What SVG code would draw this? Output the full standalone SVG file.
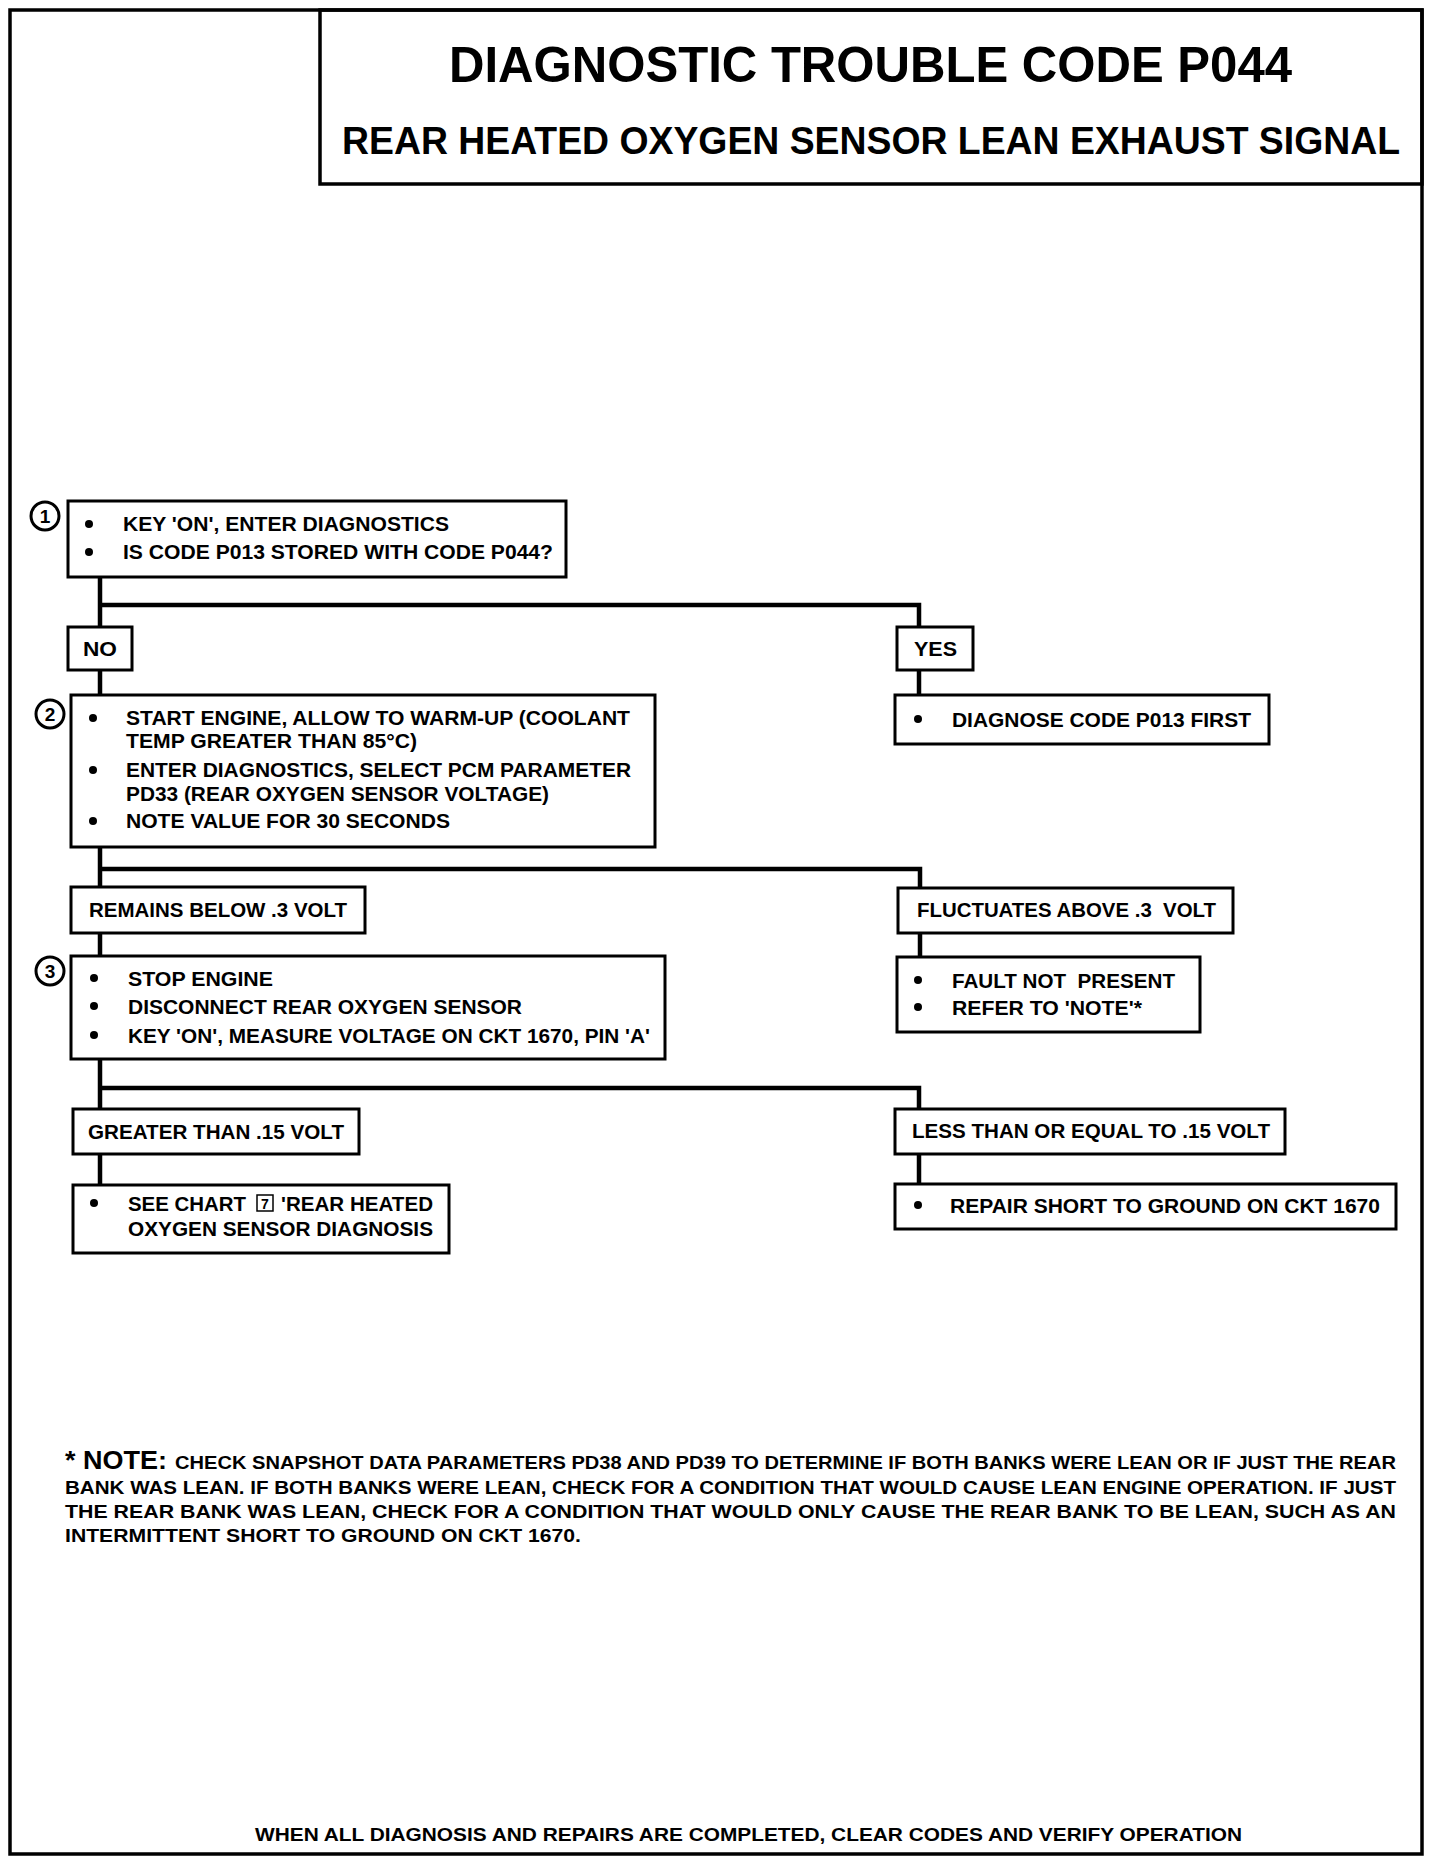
<svg xmlns="http://www.w3.org/2000/svg" width="1440" height="1866" viewBox="0 0 1440 1866">
<style>
.box{fill:#fff;stroke:#000;stroke-width:3}
.conn{fill:none;stroke:#000;stroke-width:4.5}
.t{font-family:"Liberation Sans",Arial,Helvetica,sans-serif;font-weight:bold;font-size:21px;fill:#000;white-space:pre}
.h1{font-family:"Liberation Sans",Arial,Helvetica,sans-serif;font-weight:bold;font-size:50px;fill:#000}
.h2{font-family:"Liberation Sans",Arial,Helvetica,sans-serif;font-weight:bold;font-size:38px;fill:#000}
.n{font-family:"Liberation Sans",Arial,Helvetica,sans-serif;font-weight:bold;font-size:19px;fill:#000}
.c{fill:#fff;stroke:#000;stroke-width:3}
.ct{font-family:"Liberation Sans",Arial,Helvetica,sans-serif;font-weight:bold;font-size:19px;fill:#000;text-anchor:middle}
</style>
<defs>
<circle id="dot" r="4" fill="#000"/>
</defs>
<rect x="0" y="0" width="1440" height="1866" fill="#fff"/>
<g id="frame">
<rect x="10" y="10" width="1412" height="1844" fill="none" stroke="#000" stroke-width="3.5"/>
</g>
<g id="header">
<rect x="320" y="10" width="1102" height="174" fill="none" stroke="#000" stroke-width="3.5"/>
<text class="h1" x="449" y="82" textLength="843" lengthAdjust="spacingAndGlyphs">DIAGNOSTIC TROUBLE CODE P044</text>
<text class="h2" x="342" y="154" textLength="1058" lengthAdjust="spacingAndGlyphs">REAR HEATED OXYGEN SENSOR LEAN EXHAUST SIGNAL</text>
</g>
<g id="connectors">
<polyline class="conn" points="100,577 100,627"/>
<polyline class="conn" points="100,605 919,605 919,627"/>
<polyline class="conn" points="100,670 100,695"/>
<polyline class="conn" points="919,670 919,695"/>
<polyline class="conn" points="100,847 100,887"/>
<polyline class="conn" points="100,869 920,869 920,888"/>
<polyline class="conn" points="100,933 100,956"/>
<polyline class="conn" points="920,933 920,957"/>
<polyline class="conn" points="100,1059 100,1109"/>
<polyline class="conn" points="100,1088 919,1088 919,1109"/>
<polyline class="conn" points="100,1154 100,1185"/>
<polyline class="conn" points="919,1154 919,1184"/>
</g>
<g id="step1">
<circle class="c" cx="45" cy="516" r="14"/>
<text class="ct" x="45" y="523">1</text>
<rect class="box" x="68" y="501" width="498" height="76"/>
<use href="#dot" x="89" y="524"/>
<text class="t" x="123" y="531" textLength="326" lengthAdjust="spacingAndGlyphs">KEY 'ON', ENTER DIAGNOSTICS</text>
<use href="#dot" x="89" y="552"/>
<text class="t" x="123" y="559" textLength="430" lengthAdjust="spacingAndGlyphs">IS CODE P013 STORED WITH CODE P044?</text>
</g>
<g id="no">
<rect class="box" x="68" y="627" width="64" height="43"/>
<text class="t" x="83" y="656" textLength="34" lengthAdjust="spacingAndGlyphs">NO</text>
</g>
<g id="yes">
<rect class="box" x="897" y="627" width="76" height="43"/>
<text class="t" x="914" y="656" textLength="43" lengthAdjust="spacingAndGlyphs">YES</text>
</g>
<g id="diagnose">
<rect class="box" x="895" y="695" width="374" height="49"/>
<use href="#dot" x="918" y="719"/>
<text class="t" x="952" y="727" textLength="299" lengthAdjust="spacingAndGlyphs">DIAGNOSE CODE P013 FIRST</text>
</g>
<g id="step2">
<circle class="c" cx="50" cy="714" r="14"/>
<text class="ct" x="50" y="721">2</text>
<rect class="box" x="71" y="695" width="584" height="152"/>
<use href="#dot" x="93" y="718"/>
<text class="t" x="126" y="725" textLength="504" lengthAdjust="spacingAndGlyphs">START ENGINE, ALLOW TO WARM-UP (COOLANT</text>
<text class="t" x="126" y="748" textLength="291" lengthAdjust="spacingAndGlyphs">TEMP GREATER THAN 85°C)</text>
<use href="#dot" x="93" y="770"/>
<text class="t" x="126" y="777" textLength="505" lengthAdjust="spacingAndGlyphs">ENTER DIAGNOSTICS, SELECT PCM PARAMETER</text>
<text class="t" x="126" y="801" textLength="423" lengthAdjust="spacingAndGlyphs">PD33 (REAR OXYGEN SENSOR VOLTAGE)</text>
<use href="#dot" x="93" y="821"/>
<text class="t" x="126" y="828" textLength="324" lengthAdjust="spacingAndGlyphs">NOTE VALUE FOR 30 SECONDS</text>
</g>
<g id="remains">
<rect class="box" x="71" y="887" width="294" height="46"/>
<text class="t" x="89" y="917" textLength="258" lengthAdjust="spacingAndGlyphs">REMAINS BELOW .3 VOLT</text>
</g>
<g id="fluctuates">
<rect class="box" x="898" y="888" width="335" height="45"/>
<text class="t" x="917" y="917" textLength="299" lengthAdjust="spacingAndGlyphs">FLUCTUATES ABOVE .3  VOLT</text>
</g>
<g id="fault">
<rect class="box" x="897" y="957" width="303" height="75"/>
<use href="#dot" x="918" y="980"/>
<text class="t" x="952" y="988" textLength="223" lengthAdjust="spacingAndGlyphs">FAULT NOT  PRESENT</text>
<use href="#dot" x="918" y="1007"/>
<text class="t" x="952" y="1015" textLength="190" lengthAdjust="spacingAndGlyphs">REFER TO 'NOTE'*</text>
</g>
<g id="step3">
<circle class="c" cx="50" cy="971" r="14"/>
<text class="ct" x="50" y="978">3</text>
<rect class="box" x="71" y="956" width="594" height="103"/>
<use href="#dot" x="94" y="978"/>
<text class="t" x="128" y="986" textLength="145" lengthAdjust="spacingAndGlyphs">STOP ENGINE</text>
<use href="#dot" x="94" y="1006"/>
<text class="t" x="128" y="1014" textLength="394" lengthAdjust="spacingAndGlyphs">DISCONNECT REAR OXYGEN SENSOR</text>
<use href="#dot" x="94" y="1035"/>
<text class="t" x="128" y="1043" textLength="522" lengthAdjust="spacingAndGlyphs">KEY 'ON', MEASURE VOLTAGE ON CKT 1670, PIN 'A'</text>
</g>
<g id="greater">
<rect class="box" x="73" y="1109" width="286" height="45"/>
<text class="t" x="88" y="1139" textLength="256" lengthAdjust="spacingAndGlyphs">GREATER THAN .15 VOLT</text>
</g>
<g id="less">
<rect class="box" x="895" y="1109" width="390" height="45"/>
<text class="t" x="912" y="1138" textLength="358" lengthAdjust="spacingAndGlyphs">LESS THAN OR EQUAL TO .15 VOLT</text>
</g>
<g id="seechart">
<rect class="box" x="73" y="1185" width="376" height="68"/>
<use href="#dot" x="94" y="1203"/>
<text class="t" x="128" y="1211" textLength="118" lengthAdjust="spacingAndGlyphs">SEE CHART</text>
<rect x="257" y="1195" width="16" height="16" fill="none" stroke="#000" stroke-width="1.5"/>
<text x="265" y="1209" font-family="Liberation Sans, Arial, sans-serif" font-weight="bold" font-size="14" text-anchor="middle">7</text>
<text class="t" x="281" y="1211" textLength="152" lengthAdjust="spacingAndGlyphs">'REAR HEATED</text>
<text class="t" x="128" y="1236" textLength="305" lengthAdjust="spacingAndGlyphs">OXYGEN SENSOR DIAGNOSIS</text>
</g>
<g id="repair">
<rect class="box" x="895" y="1184" width="501" height="45"/>
<use href="#dot" x="918" y="1205"/>
<text class="t" x="950" y="1213" textLength="430" lengthAdjust="spacingAndGlyphs">REPAIR SHORT TO GROUND ON CKT 1670</text>
</g>
<g id="note">
<text x="65" y="1469" font-family="Liberation Sans, Arial, sans-serif" font-weight="bold" font-size="26" textLength="102" lengthAdjust="spacingAndGlyphs">* NOTE:</text>
<text class="n" x="175" y="1469" textLength="1221" lengthAdjust="spacingAndGlyphs">CHECK SNAPSHOT DATA PARAMETERS PD38 AND PD39 TO DETERMINE IF BOTH BANKS WERE LEAN OR IF JUST THE REAR</text>
<text class="n" x="65" y="1494" textLength="1331" lengthAdjust="spacingAndGlyphs">BANK WAS LEAN. IF BOTH BANKS WERE LEAN, CHECK FOR A CONDITION THAT WOULD CAUSE LEAN ENGINE OPERATION. IF JUST</text>
<text class="n" x="65" y="1518" textLength="1331" lengthAdjust="spacingAndGlyphs">THE REAR BANK WAS LEAN, CHECK FOR A CONDITION THAT WOULD ONLY CAUSE THE REAR BANK TO BE LEAN, SUCH AS AN</text>
<text class="n" x="65" y="1542" textLength="516" lengthAdjust="spacingAndGlyphs">INTERMITTENT SHORT TO GROUND ON CKT 1670.</text>
</g>
<g id="footer">
<text class="n" x="255" y="1841" font-size="20" textLength="987" lengthAdjust="spacingAndGlyphs">WHEN ALL DIAGNOSIS AND REPAIRS ARE COMPLETED, CLEAR CODES AND VERIFY OPERATION</text>
</g>
</svg>
